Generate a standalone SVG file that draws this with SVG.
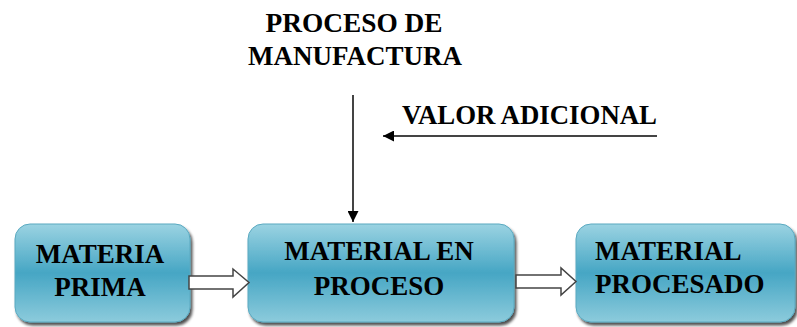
<svg xmlns="http://www.w3.org/2000/svg" width="797" height="327" viewBox="0 0 797 327">
  <defs>
    <linearGradient id="boxGrad" x1="0" y1="0" x2="0" y2="1">
      <stop offset="0" stop-color="#9bd3e2"/>
      <stop offset="0.5" stop-color="#46a6c4"/>
      <stop offset="1" stop-color="#8ccbdc"/>
    </linearGradient>
    <filter id="shadow" x="-10%" y="-10%" width="120%" height="130%">
      <feGaussianBlur in="SourceAlpha" stdDeviation="1.5"/>
      <feOffset dx="2" dy="3" result="b"/>
      <feComponentTransfer><feFuncA type="linear" slope="0.7"/></feComponentTransfer>
      <feMerge><feMergeNode/><feMergeNode in="SourceGraphic"/></feMerge>
    </filter>
    <marker id="arrowHead" viewBox="0 0 10 10" refX="10" refY="5" markerWidth="5.5" markerHeight="5.5" orient="auto" markerUnits="strokeWidth">
      <path d="M0,0 L10,5 L0,10 z" fill="#000"/>
    </marker>
  </defs>
  <style>
    .box { fill: url(#boxGrad); stroke: #5aa9c0; stroke-width: 1; filter: url(#shadow); }
    .lbl { font-weight: bold; font-size: 27px; fill: #000; }
    .conn { stroke: #444; stroke-width: 2; fill: none; }
    .block { fill: #fff; stroke: #444; stroke-width: 1.5; }
  </style>
  <rect width="797" height="327" fill="#fff"/>

  <g font-family="Liberation Serif, Times New Roman, serif">
  <g id="label-proceso">
    <text class="lbl" x="354" y="32" text-anchor="middle" textLength="177" lengthAdjust="spacingAndGlyphs">PROCESO DE</text>
    <text class="lbl" x="355" y="65" text-anchor="middle" textLength="214" lengthAdjust="spacingAndGlyphs">MANUFACTURA</text>
  </g>
  <g id="label-valor">
    <text class="lbl" x="402" y="124" textLength="255" lengthAdjust="spacingAndGlyphs">VALOR ADICIONAL</text>
  </g>

  <g id="node-materia-prima">
    <rect class="box" x="15" y="224" width="175" height="98" rx="15" ry="15"/>
    <text class="lbl" x="100" y="263" text-anchor="middle">MATERIA</text>
    <text class="lbl" x="100" y="296" text-anchor="middle">PRIMA</text>
  </g>
  <g id="node-material-en-proceso">
    <rect class="box" x="248" y="224" width="266" height="98" rx="15" ry="15"/>
    <text class="lbl" x="379" y="260" text-anchor="middle">MATERIAL EN</text>
    <text class="lbl" x="379" y="295" text-anchor="middle">PROCESO</text>
  </g>
  <g id="node-material-procesado">
    <rect class="box" x="576" y="224" width="219" height="98" rx="15" ry="15"/>
    <text class="lbl" x="595" y="260">MATERIAL</text>
    <text class="lbl" x="595" y="293">PROCESADO</text>
  </g>
  </g>

  <g id="connectors">
    <line class="conn" x1="353" y1="95" x2="353" y2="222" marker-end="url(#arrowHead)"/>
    <line class="conn" x1="657" y1="136" x2="383" y2="136" marker-end="url(#arrowHead)"/>
    <path class="block" d="M189,276 L233,276 L233,269 L249,282.5 L233,297 L233,289 L189,289 Z"/>
    <path class="block" d="M516,275 L561,275 L561,268 L576,281.5 L561,295 L561,288 L516,288 Z"/>
  </g>
</svg>
